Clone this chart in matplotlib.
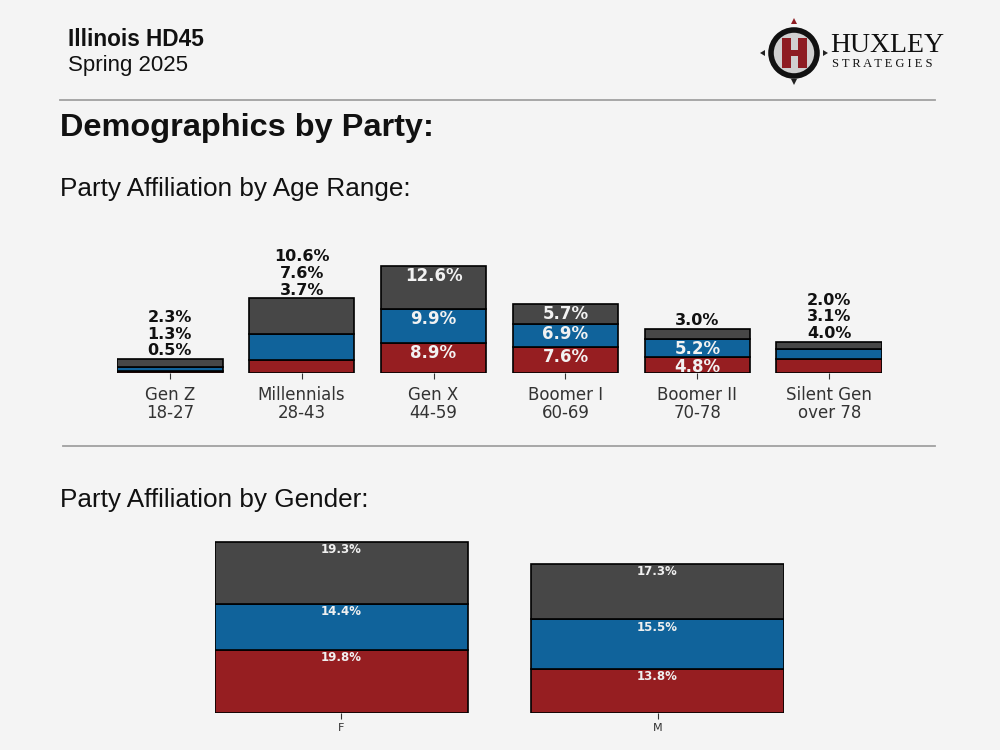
import matplotlib
matplotlib.use("Agg")
import matplotlib.pyplot as plt
import numpy as np
from matplotlib.lines import Line2D
from matplotlib.patches import Circle, Rectangle, Polygon

plt.rcParams["font.family"] = ["DejaVu Sans"]

# ---------------- data ----------------
age_categories = ["Gen Z\n18-27", "Millennials\n28-43", "Gen X\n44-59",
                  "Boomer I\n60-69", "Boomer II\n70-78", "Silent Gen\nover 78"]
age_rep = [0.5, 3.7, 8.9, 7.6, 4.8, 4.0]
age_dem = [1.3, 7.6, 9.9, 6.9, 5.2, 3.1]
age_other = [2.3, 10.6, 12.6, 5.7, 3.0, 2.0]
# which segment labels sit above the bar (rep, dem, other)
age_label_outside = [[True, True, True], [True, True, True], [False, False, False],
                     [False, False, False], [False, False, True], [True, True, True]]

gender_categories = ["F", "M"]
gender_rep = [19.8, 13.8]
gender_dem = [14.4, 15.5]
gender_other = [19.3, 17.3]

RED = "#961e21"
BLUE = "#10639b"
GRAY = "#474747"
BG = "#f4f4f4"
BODY = ["DejaVu Sans"]

fig = plt.figure(figsize=(10, 7.5), dpi=100, facecolor=BG)

def fy(py):
    return 1 - py / 750.0

# ---------------- header ----------------
HEAD = ["Liberation Sans", "DejaVu Sans"]
fig.text(0.068, fy(40), "Illinois HD45", family=HEAD, fontsize=16.3, fontweight="bold",
         va="center", ha="left", color="#111111")
fig.text(0.068, fy(65), "Spring 2025", family=HEAD, fontsize=16,
         va="center", ha="left", color="#111111")
fig.text(0.060, fy(128), "Demographics by Party:", family=HEAD, fontsize=23.4, fontweight="bold",
         va="center", ha="left", color="#111111")
fig.text(0.060, fy(189), "Party Affiliation by Age Range:", family=HEAD, fontsize=18.8,
         va="center", ha="left", color="#111111")
fig.text(0.060, fy(500), "Party Affiliation by Gender:", family=HEAD, fontsize=18.8,
         va="center", ha="left", color="#111111")

fig.add_artist(Line2D([0.060, 0.935], [fy(100), fy(100)], color="#a0a0a0", lw=1.3))
fig.add_artist(Line2D([0.063, 0.935], [fy(446), fy(446)], color="#a0a0a0", lw=1.3))

# ---------------- logo ----------------
lg = fig.add_axes([0, 0, 1, 1], zorder=-1)
lg.set_xlim(0, 1000)
lg.set_ylim(750, 0)
lg.axis("off")
lg.patch.set_alpha(0)
cx, cy, r = 794, 53, 23
lg.add_patch(Circle((cx, cy), r, facecolor="#d0d0d0", edgecolor="#111111", lw=4))
lg.add_patch(Rectangle((cx - 12, cy - 15), 9, 30, facecolor="#8e1c22", edgecolor="none"))
lg.add_patch(Rectangle((cx + 4, cy - 15), 9, 30, facecolor="#8e1c22", edgecolor="none"))
lg.add_patch(Rectangle((cx - 4, cy - 3), 9, 6, facecolor="#8e1c22", edgecolor="none"))
lg.add_patch(Polygon([[cx - 3, 24], [cx + 3, 24], [cx, 18]], closed=True, facecolor="#8e1c22"))
lg.add_patch(Polygon([[cx - 3, 79], [cx + 3, 79], [cx, 85]], closed=True, facecolor="#222222"))
lg.add_patch(Polygon([[765, cy - 3], [765, cy + 3], [760, cy]], closed=True, facecolor="#222222"))
lg.add_patch(Polygon([[823, cy - 3], [823, cy + 3], [828, cy]], closed=True, facecolor="#222222"))
SERIF = ["Liberation Serif", "DejaVu Serif"]
lg.text(830, 52, "HUXLEY", family=SERIF, fontsize=20,
        ha="left", va="baseline", color="#111111")
lg.text(832, 67, "S T R A T E G I E S", family=SERIF, fontsize=9,
        ha="left", va="baseline", color="#111111")

# ---------------- age chart ----------------
ax1 = fig.add_axes([0.117, fy(373), 0.765, 119.4 / 750.0])
ax1.set_facecolor("none")
x = np.arange(len(age_categories))
w = 0.8
rep = np.array(age_rep)
dem = np.array(age_dem)
oth = np.array(age_other)
ax1.bar(x, rep, w, color=RED, edgecolor="black", lw=1.2)
ax1.bar(x, dem, w, bottom=rep, color=BLUE, edgecolor="black", lw=1.2)
ax1.bar(x, oth, w, bottom=rep + dem, color=GRAY, edgecolor="black", lw=1.2)
ax1.set_xlim(-0.4, len(age_categories) - 0.6)
ax1.set_ylim(0, 35)
for s in ax1.spines.values():
    s.set_visible(False)
ax1.set_yticks([])
ax1.set_xticks(x)
ax1.set_xticklabels(age_categories, fontsize=12, color="#333333", linespacing=1.05,
                    family=BODY)
ax1.tick_params(axis="x", length=4.5, color="#333333", pad=4.5)

for i in range(len(age_categories)):
    vals = [rep[i], dem[i], oth[i]]
    bottoms = [0, rep[i], rep[i] + dem[i]]
    total = rep[i] + dem[i] + oth[i]
    outside = [f"{v:.1f}%" for v, o in zip(vals, age_label_outside[i]) if o]
    for v, b, o in zip(vals, bottoms, age_label_outside[i]):
        if not o:
            ax1.annotate(f"{v:.1f}%", (x[i], b + v), xytext=(0, -1), textcoords="offset points",
                         ha="center", va="top", fontsize=12, fontweight="bold",
                         color="#f2f2f2", family=BODY)
    if outside:
        ax1.annotate("\n".join(outside[::-1]), (x[i], total), xytext=(0, 0.5),
                     textcoords="offset points", ha="center", va="bottom", fontsize=11.5,
                     fontweight="bold", color="#111111", linespacing=1.15,
                     annotation_clip=False, family=BODY)

# ---------------- gender chart ----------------
ax2 = fig.add_axes([0.215, fy(713), 0.569, 176.0 / 750.0])
ax2.set_facecolor("none")
xg = np.arange(len(gender_categories))
gr = np.array(gender_rep)
gd = np.array(gender_dem)
go = np.array(gender_other)
ax2.bar(xg, gr, w, color=RED, edgecolor="black", lw=1.2)
ax2.bar(xg, gd, w, bottom=gr, color=BLUE, edgecolor="black", lw=1.2)
ax2.bar(xg, go, w, bottom=gr + gd, color=GRAY, edgecolor="black", lw=1.2)
ax2.set_xlim(-0.4, len(gender_categories) - 0.6)
ax2.set_ylim(0, 55)
for s in ax2.spines.values():
    s.set_visible(False)
ax2.set_yticks([])
ax2.set_xticks(xg)
ax2.set_xticklabels(gender_categories, fontsize=8, color="#333333", family=BODY)
ax2.tick_params(axis="x", length=4, color="#333333")
for i in range(len(gender_categories)):
    for v, b in zip([gr[i], gd[i], go[i]], [0, gr[i], gr[i] + gd[i]]):
        ax2.annotate(f"{v:.1f}%", (xg[i], b + v), xytext=(0, -1), textcoords="offset points",
                     ha="center", va="top", fontsize=8.5, fontweight="bold",
                     color="#f0f0f0", family=BODY)

fig.savefig("out.png", dpi=100, facecolor=BG)
